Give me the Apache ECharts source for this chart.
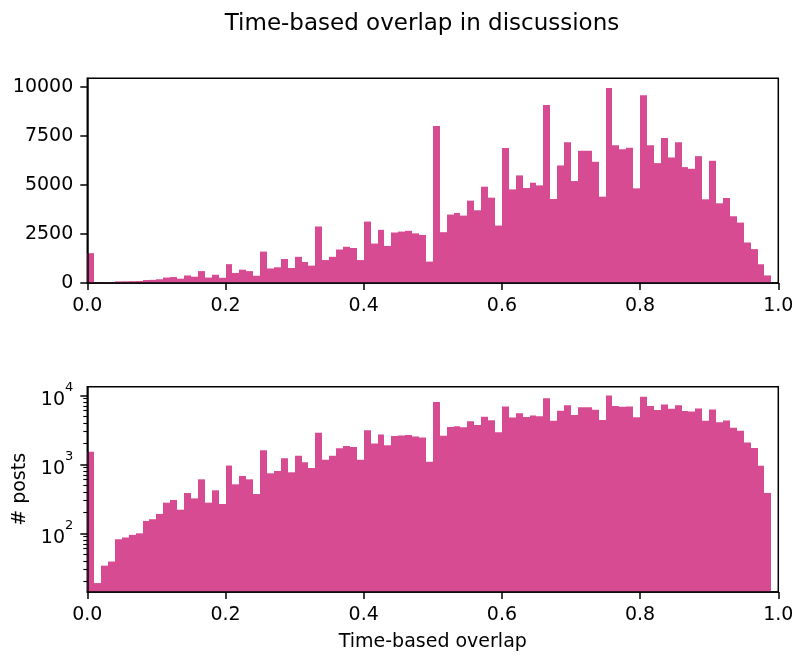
<!DOCTYPE html>
<html>
<head>
<meta charset="utf-8">
<title>Time-based overlap in discussions</title>
<script src="https://cdn.jsdelivr.net/npm/echarts@6/dist/echarts.min.js"></script>
<style>
  html, body { margin: 0; padding: 0; background: #fff; }
  #chart { width: 798px; height: 658px; }
</style>
</head>
<body>
<div id="chart"></div>
<script>
// histogram: 0.01 wide bins starting at 0
const binWidth = 0.01
const postCounts = [
  1520, 19, 34, 39, 82, 87, 95, 100, 151, 160,
  191, 278, 304, 220, 384, 321, 606, 278, 420, 266,
  960, 513, 678, 606, 371, 1600, 741, 800, 1222, 766,
  1335, 1069, 885, 2880, 1169, 1335, 1706, 1845, 1783, 1169,
  3130, 2010, 2710, 1890, 2573, 2620, 2660, 2530, 2450, 1090,
  8000, 2589, 3486, 3570, 3435, 4196, 3705, 4907, 4348, 2927,
  6880, 4771, 5482, 4839, 5110, 4974, 9069, 4281, 5990, 7174,
  5194, 6734, 6734, 6176, 4400, 9932, 7022, 6819, 6886, 4822,
  9560, 7022, 6108, 7394, 6396, 7174, 5905, 5820, 6463, 4264,
  6227, 4061, 4332, 3401, 3079, 2064, 1726, 955, 385
]
const xTicks = [0, 0.2, 0.4, 0.6, 0.8, 1.0]
const linearTicks = [0, 2500, 5000, 7500, 10000]
const logMinorTicks = [20, 30, 40, 50, 60, 70, 80, 90, 200, 300, 400, 500, 600, 700, 800, 900, 2000, 3000, 4000, 5000, 6000, 7000, 8000, 9000]

const linearMax = 10430
const logMin = 14.1
const logMax = 13340

const barColor = '#d64b92'
const font = 'DejaVu Sans'

const bins = postCounts.map((count, i) => [i * binWidth, (i + 1) * binWidth, count])

function barRenderer(base) {
  return function (params, api) {
    const topLeft = api.coord([api.value(0), api.value(2)])
    const bottomRight = api.coord([api.value(1), base])
    // snap the vertical edges so neighbouring bars join without seams
    const x0 = Math.round(topLeft[0])
    const x1 = Math.round(bottomRight[0])
    return {
      type: 'rect',
      shape: {
        x: x0,
        y: topLeft[1],
        width: x1 - x0,
        height: bottomRight[1] - topLeft[1]
      },
      style: { fill: barColor }
    }
  }
}

const lineStyle = { color: '#000', width: 1.5 }

function xAxis(gridIndex, name) {
  return {
    type: 'value',
    gridIndex: gridIndex,
    min: 0,
    max: 1,
    interval: 0.2,
    z: 5,
    name: name,
    nameLocation: 'middle',
    nameGap: 41,
    nameTextStyle: { fontSize: 19, fontFamily: font, color: '#000' },
    axisLine: { show: true, lineStyle: lineStyle },
    axisTick: { show: true, length: 7, lineStyle: lineStyle, customValues: xTicks },
    axisLabel: {
      margin: 14,
      fontSize: 19,
      fontFamily: font,
      color: '#000',
      customValues: xTicks,
      formatter: v => v.toFixed(1)
    },
    splitLine: { show: false }
  }
}

const chart = echarts.init(document.getElementById('chart'))

chart.setOption({
  animation: false,
  backgroundColor: '#fff',
  title: {
    text: 'Time-based overlap in discussions',
    left: 417,
    top: 8,
    textAlign: 'center',
    textStyle: { fontSize: 23, fontWeight: 'normal', fontFamily: font, color: '#000' }
  },
  grid: [
    { left: 87.3, top: 78.3, width: 691, height: 204.7, show: true, borderColor: '#000', borderWidth: 1.5 },
    { left: 87.3, top: 386.7, width: 691, height: 205.3, show: true, borderColor: '#000', borderWidth: 1.5 }
  ],
  xAxis: [
    xAxis(0, ''),
    xAxis(1, 'Time-based overlap')
  ],
  yAxis: [
    {
      type: 'value',
      gridIndex: 0,
      min: 0,
      max: linearMax,
      z: 5,
      axisLine: { show: true, lineStyle: lineStyle },
      axisTick: { show: true, length: 7, lineStyle: lineStyle, customValues: linearTicks },
      axisLabel: {
        margin: 14,
        fontSize: 19,
        fontFamily: font,
        color: '#000',
        customValues: linearTicks,
        formatter: v => String(v)
      },
      splitLine: { show: false }
    },
    {
      type: 'log',
      gridIndex: 1,
      position: 'left',
      min: logMin,
      max: logMax,
      z: 5,
      name: '# posts',
      nameLocation: 'middle',
      nameRotate: 90,
      nameGap: 58,
      nameTextStyle: { fontSize: 19, fontFamily: font, color: '#000' },
      axisLine: { show: true, lineStyle: lineStyle },
      axisTick: { show: true, length: 7, lineStyle: lineStyle },
      axisLabel: {
        margin: 14,
        showMinLabel: false,
        showMaxLabel: false,
        formatter: v => '{base|10}{sup|' + Math.round(Math.log10(v)) + '}',
        rich: {
          base: { fontSize: 19, fontFamily: font, color: '#000', lineHeight: 28, verticalAlign: 'bottom' },
          sup: { fontSize: 13, fontFamily: font, color: '#000', lineHeight: 14, verticalAlign: 'top' }
        }
      },
      splitLine: { show: false }
    },
    {
      // minor ticks of the log axis
      type: 'log',
      gridIndex: 1,
      position: 'left',
      min: logMin,
      max: logMax,
      z: 5,
      axisLine: { show: false },
      axisTick: { show: true, length: 4, lineStyle: { color: '#000', width: 1.1 }, customValues: logMinorTicks },
      axisLabel: { show: false },
      splitLine: { show: false }
    }
  ],
  series: [
    {
      type: 'custom',
      xAxisIndex: 0,
      yAxisIndex: 0,
      renderItem: barRenderer(0),
      encode: { x: [0, 1], y: 2 },
      data: bins
    },
    {
      type: 'custom',
      xAxisIndex: 1,
      yAxisIndex: 1,
      renderItem: barRenderer(logMin),
      encode: { x: [0, 1], y: 2 },
      data: bins
    }
  ]
})
</script>
</body>
</html>
